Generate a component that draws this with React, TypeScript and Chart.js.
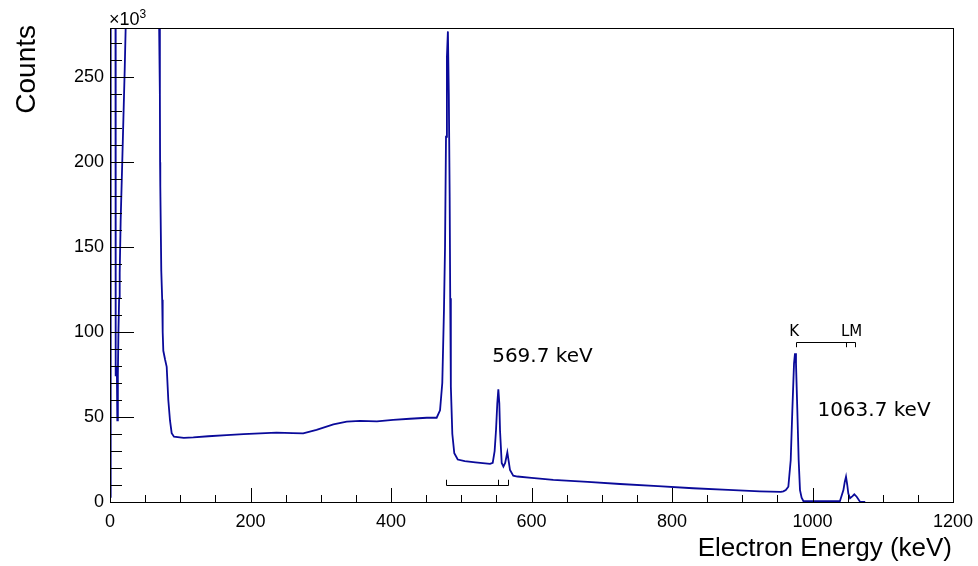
import React, { useEffect, useRef } from 'react';
import { Chart, registerables } from 'chart.js';

Chart.register(...registerables);

// Spectrum: electron energy (keV) vs counts (x10^3)
const energy = [
  0.3, 1.0, 2.0, 3.0, 4.0, 5.0, 6.0, 7.0, 7.8, 8.1, 9.0, 9.8, 10.4, 11.2, 12.0, 13.0, 13.8, 15.2, 17.5, 20.9,
  22.3, 24.0, 30, 40, 50, 60, 68, 69.8, 71.0, 71.3, 71.6, 73.0, 74.3, 75.0, 75.9, 78.3, 80.7, 83.0, 85.4, 87.8,
  91.1, 105, 118.6, 140, 166, 190, 213.5, 237, 260, 275, 294, 318, 337, 356, 380, 403, 427, 451, 465, 469.8,
  473.0, 475.4, 476.9, 478.3, 479.6, 481.0, 482.3, 483.5, 484.3, 485.2, 487.3, 490.1, 495, 505, 520, 541, 544.8, 547.5, 549.5, 551.3,
  552.8, 554.2, 555.2, 557.6, 560.0, 562.5, 565.6, 567.5, 569.4, 574, 580, 600, 631, 680, 726, 780, 830, 880, 925, 955,
  958.5, 962, 965.6, 969, 971.3, 973.7, 975.1, 976.5, 978.4, 980.3, 982.2, 984.5, 987, 1039, 1044, 1046, 1047.7, 1049.5, 1051, 1053.4,
  1057, 1059.5, 1062.9, 1067.6, 1075,
];
const counts = [
  3, 350, 500, 450, 380, 330, 360, 320, 290, 74, 80, 76, 48, 75, 100, 120, 135, 166, 201, 254,
  279, 320, 430, 560, 520, 420, 330, 285, 240, 200, 186, 136, 119, 100, 89, 84, 79.6, 60, 48, 40.5,
  38.4, 37.8, 38.0, 38.7, 39.4, 39.9, 40.4, 40.8, 40.5, 40.4, 42.4, 45.7, 47.3, 47.7, 47.5, 48.3, 49.0, 49.6, 49.6, 54,
  70, 113, 150, 215, 262, 277, 240, 180, 120, 68, 40, 28.7, 25, 24, 23.3, 22.4, 23, 30, 42.4, 58,
  66.3, 58, 42, 23, 20.8, 23, 29.2, 24, 18.8, 15.5, 15.0, 14.2, 13.0, 11.8, 10.6, 9.3, 8.1, 7.1, 6.3, 6.0,
  6.3, 7, 9, 24.7, 54, 81.6, 87.5, 81.6, 54, 24.7, 7, 2.5, 0.6, 0.5, 7, 12, 14.9, 10, 5, 2.2,
  3.5, 4.5, 3.1, 0.2, 0,
];

// Axes
const xMin = 0;
const xMax = 1200;
const xMajorStep = 200;
const xMinorStep = 50;
const yMin = 0;
const yMax = 279;
const yMajorStep = 50;
const yMinorStep = 10;

// Annotations (data coordinates)
const bracketLowX = [479, 553, 566];
const bracketLowY = [10.2, 13.1];
const bracketHighX = [976, 1048, 1061];
const bracketHighY = [94.3, 91.1];
const peakLabels = ['569.7 keV', '1063.7 keV'];
const peakLabelX = [544, 1007];
const peakLabelY = [82.5, 50.6];
const shellLabels = ['K', 'LM'];
const shellLabelX = [967, 1040.5];
const shellLabelY = [97.7, 97.7];

const xTitle = 'Electron Energy (keV)';
const yTitle = 'Counts';

const LINE = '#0a0a9a';

const overlayPlugin = {
  id: 'rootOverlay',
  afterDraw(chart: any) {
    const { ctx, chartArea: a, scales } = chart;
    const x = scales.x;
    const y = scales.y;
    ctx.save();
    ctx.strokeStyle = '#000';
    ctx.fillStyle = '#000';
    ctx.lineWidth = 1;
    const seg = (x1: number, y1: number, x2: number, y2: number) => {
      ctx.beginPath();
      ctx.moveTo(x1, y1);
      ctx.lineTo(x2, y2);
      ctx.stroke();
    };
    // y ticks (inward)
    for (let v = yMin; v <= yMax; v += yMinorStep) {
      const py = Math.round(y.getPixelForValue(v)) + 0.5;
      const len = v % yMajorStep === 0 ? 24 : 12;
      seg(a.left, py, a.left + len, py);
    }
    // x ticks (inward)
    for (let v = xMin; v <= xMax; v += xMinorStep) {
      const px = Math.round(x.getPixelForValue(v)) + 0.5;
      const len = v % xMajorStep === 0 ? 14 : 7;
      seg(px, a.bottom, px, a.bottom - len);
    }
    // frame
    ctx.strokeRect(Math.round(a.left) + 0.5, Math.round(a.top) + 0.5, Math.round(a.right - a.left), Math.round(a.bottom - a.top));

    // brackets
    const drawBracket = (xs: number[], ys: number[]) => {
      const yb = Math.round(y.getPixelForValue(ys[0])) + 0.5;
      const yt = y.getPixelForValue(ys[1]);
      const px = xs.map((v) => Math.round(x.getPixelForValue(v)) + 0.5);
      seg(px[0], yb, px[px.length - 1], yb);
      px.forEach((p) => seg(p, yb, p, yt));
    };
    drawBracket(bracketLowX, bracketLowY);
    drawBracket(bracketHighX, bracketHighY);

    // labels
    ctx.textAlign = 'left';
    ctx.textBaseline = 'alphabetic';
    ctx.font = '20px "DejaVu Sans"';
    peakLabels.forEach((t, i) => ctx.fillText(t, x.getPixelForValue(peakLabelX[i]), y.getPixelForValue(peakLabelY[i])));
    ctx.font = '15px "DejaVu Sans"';
    shellLabels.forEach((t, i) => ctx.fillText(t, x.getPixelForValue(shellLabelX[i]), y.getPixelForValue(shellLabelY[i])));

    // exponent
    ctx.font = '18px "Liberation Sans"';
    ctx.fillText('\u00d710', a.left - 1, 25);
    const w = ctx.measureText('\u00d710').width;
    ctx.font = '12px "Liberation Sans"';
    ctx.fillText('3', a.left - 1 + w, 18);

    // titles
    ctx.font = '26px "Liberation Sans"';
    ctx.textAlign = 'right';
    ctx.fillText(xTitle, 952, 556);
    ctx.save();
    ctx.translate(35, 25);
    ctx.rotate(-Math.PI / 2);
    ctx.font = '28px "Liberation Sans"';
    ctx.textAlign = 'right';
    ctx.fillText(yTitle, 0, 0);
    ctx.restore();

    ctx.restore();
  },
};

export default function App() {
  const ref = useRef<HTMLCanvasElement | null>(null);
  useEffect(() => {
    if (!ref.current) return;
    const data = energy.map((e, i) => ({ x: e, y: counts[i] }));
    const chart = new Chart(ref.current, {
      type: 'line',
      data: {
        datasets: [
          {
            data,
            borderColor: LINE,
            borderWidth: 1.8,
            pointRadius: 0,
            tension: 0,
            fill: false,
          },
        ],
      },
      options: {
        responsive: false,
        animation: false,
        devicePixelRatio: 1,
        layout: { padding: { left: 0, top: 28, right: 25, bottom: 0 } },
        plugins: { legend: { display: false }, tooltip: { enabled: false } },
        scales: {
          x: {
            type: 'linear',
            min: xMin,
            max: xMax,
            grid: { display: false, drawTicks: false },
            border: { display: false },
            ticks: {
              stepSize: xMajorStep,
              includeBounds: false,
              autoSkip: false,
              maxRotation: 0,
              padding: 9,
              color: '#000',
              font: { family: 'Liberation Sans', size: 18 },
              callback: (v: any) => String(v),
            },
            afterFit: (s: any) => {
              s.height = 64;
              s.paddingLeft = 0;
              s.paddingRight = 0;
            },
          },
          y: {
            type: 'linear',
            min: yMin,
            max: yMax,
            grid: { display: false, drawTicks: false },
            border: { display: false },
            ticks: {
              stepSize: yMajorStep,
              includeBounds: false,
              autoSkip: false,
              padding: 6,
              color: '#000',
              font: { family: 'Liberation Sans', size: 18 },
              callback: (v: any) => String(v),
            },
            afterFit: (s: any) => {
              s.width = 110;
              s.paddingTop = 0;
              s.paddingBottom = 0;
            },
          },
        },
      },
      plugins: [overlayPlugin],
    });
    return () => chart.destroy();
  }, []);
  return (
    <div style={{ position: 'fixed', left: 0, top: 0, width: 978, height: 566, background: '#fff' }}>
      <canvas ref={ref} width={978} height={566} style={{ width: 978, height: 566 }} />
    </div>
  );
}
